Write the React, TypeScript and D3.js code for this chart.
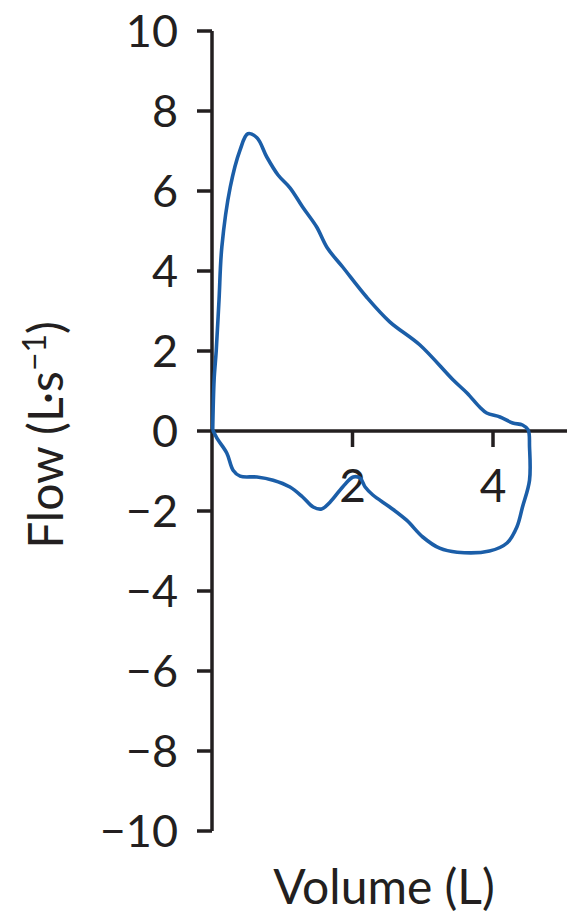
import React from "react";
import * as d3 from "d3";

const volume = [0.01, 0.03, 0.06, 0.1, 0.14, 0.26, 0.4, 0.51, 0.64, 0.78, 0.94, 1.11, 1.29, 1.49, 1.64, 1.86, 2.2, 2.53, 2.96, 3.43, 3.63, 3.81, 3.91, 4.1, 4.28, 4.42, 4.5,
  4.52, 4.52, 4.42, 4.34, 4.2, 3.95, 3.49, 3.24, 3.0, 2.77, 2.53, 2.29, 2.18, 2.11, 2.01, 1.86, 1.68, 1.56, 1.44, 1.29, 1.11, 0.87, 0.64, 0.4, 0.3, 0.21, 0.07, 0.01];
const flow = [0.03, 1.28, 2.0, 3.28, 4.6, 6.1, 7.03, 7.43, 7.33, 6.85, 6.4, 6.08, 5.6, 5.1, 4.58, 4.1, 3.35, 2.73, 2.15, 1.28, 0.95, 0.6, 0.45, 0.35, 0.2, 0.15, 0.03,
  -0.4, -1.23, -1.9, -2.4, -2.8, -3.0, -3.03, -2.93, -2.65, -2.23, -1.9, -1.6, -1.4, -1.18, -1.15, -1.4, -1.78, -1.95, -1.9, -1.65, -1.4, -1.23, -1.15, -1.13, -0.98, -0.55, -0.18, 0.03];

const yTicks = [10, 8, 6, 4, 2, 0, -2, -4, -6, -8, -10];
const xTicks = [2, 4];
const xLabel = "Volume (L)";

const fmt = (v: number) => (v < 0 ? "\u2212" + Math.abs(v) : String(v));

export default function App() {
  const W = 567, H = 923;
  const x = d3.scaleLinear().domain([0, 4]).range([212, 493]);
  const y = d3.scaleLinear().domain([-10, 10]).range([831, 31]);
  const pts: [number, number][] = volume.map((v, i) => [x(v), y(flow[i])]);
  const line = d3.line().curve(d3.curveCatmullRom.alpha(0.5))(pts) || "";
  const axisColor = "#231f20";
  const font = "Lato, 'Open Sans', sans-serif";
  return (
    <svg width={W} height={H} style={{ position: "absolute", left: 0, top: 0, background: "#fff" }}>
      <line x1={x(0)} x2={x(0)} y1={y(10)} y2={y(-10)} stroke={axisColor} strokeWidth={3.5} />
      <line x1={x(0)} x2={W} y1={y(0)} y2={y(0)} stroke={axisColor} strokeWidth={3.5} />
      {yTicks.map((t) => (
        <g key={t}>
          <line x1={x(0) - 15} x2={x(0)} y1={y(t)} y2={y(t)} stroke={axisColor} strokeWidth={3.5} />
          <text x={178} y={y(t)} dy="0.36em" textAnchor="end" fontSize={45} fontFamily={font} fill={axisColor}>
            {fmt(t)}
          </text>
        </g>
      ))}
      {xTicks.map((t) => (
        <g key={t}>
          <line x1={x(t)} x2={x(t)} y1={y(0)} y2={y(0) + 16} stroke={axisColor} strokeWidth={3.5} />
          <text x={x(t)} y={502} textAnchor="middle" fontSize={46} fontFamily={font} fill={axisColor}>
            {fmt(t)}
          </text>
        </g>
      ))}
      <path d={line} fill="none" stroke="#1b5ea8" strokeWidth={3.6} strokeLinejoin="round" />
      <text transform="translate(63,435) rotate(-90)" textAnchor="middle" fontSize={48} fontFamily={font} fill={axisColor}>
        Flow (L·s<tspan dy="-17" fontSize={32}>−1</tspan><tspan dy="17">)</tspan>
      </text>
      <text x={384} y={904} textAnchor="middle" fontSize={48} fontFamily={font} fill={axisColor}>
        {xLabel}
      </text>
    </svg>
  );
}
